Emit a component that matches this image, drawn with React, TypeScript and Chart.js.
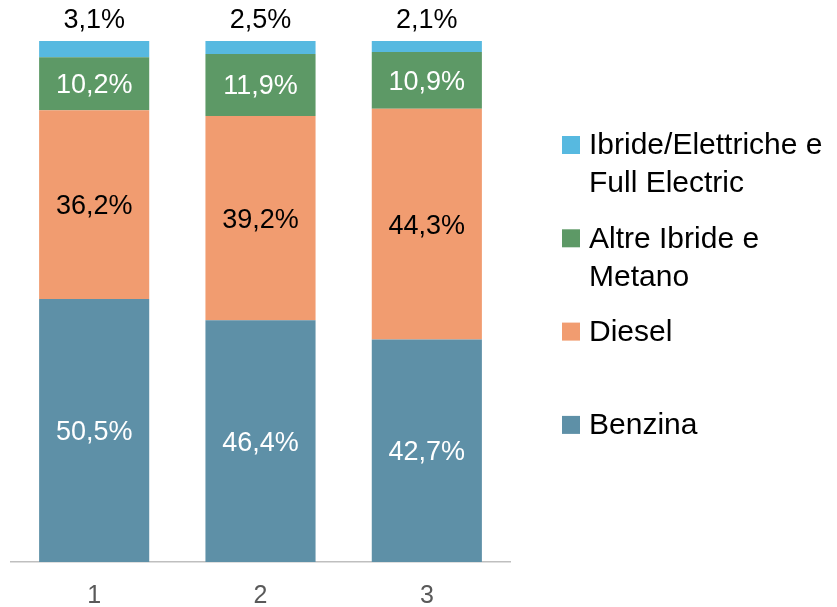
import React, { useEffect, useRef } from "react";
import { Chart, registerables } from "chart.js";

Chart.register(...registerables);

const categories = ["1", "2", "3"];
const seriesNames = ["Benzina", "Diesel", "Altre Ibride e Metano", "Ibride/Elettriche e Full Electric"];
const legendLines = [["Benzina"], ["Diesel"], ["Altre Ibride e", "Metano"], ["Ibride/Elettriche e", "Full Electric"]];
const benzina = [50.5, 46.4, 42.7];
const diesel = [36.2, 39.2, 44.3];
const altreIbride = [10.2, 11.9, 10.9];
const ibrideElettriche = [3.1, 2.5, 2.1];
const colors = ["#5E90A7", "#F19C70", "#5D9966", "#57B9E0"];
const labelColors = ["#FFFFFF", "#000000", "#FFFFFF", "#000000"];

const FONT = "'Liberation Sans', Arial, sans-serif";

const fmt = (v: number) => v.toFixed(1).replace(".", ",") + "%";

const labelsPlugin = {
  id: "segLabels",
  afterDatasetsDraw(chart: any) {
    const ctx = chart.ctx;
    ctx.save();
    ctx.font = `27px ${FONT}`;
    ctx.textAlign = "center";
    ctx.textBaseline = "middle";
    chart.data.datasets.forEach((ds: any, i: number) => {
      const meta = chart.getDatasetMeta(i);
      meta.data.forEach((bar: any, j: number) => {
        const v = ds.data[j];
        ctx.fillStyle = labelColors[i];
        if (i === 3) {
          ctx.fillText(fmt(v), bar.x, bar.y - 20);
        } else {
          ctx.fillText(fmt(v), bar.x, (bar.y + bar.base) / 2 + 2);
        }
      });
    });
    // category labels from the x scale
    const xs = chart.scales.x;
    ctx.font = `25px ${FONT}`;
    ctx.fillStyle = "#595959";
    chart.data.labels.forEach((lab: string, j: number) => {
      ctx.fillText(lab, xs.getPixelForValue(j), xs.bottom + 34);
    });
    ctx.restore();
  },
};

const legendPlugin = {
  id: "sideLegend",
  afterDraw(chart: any) {
    const ctx = chart.ctx;
    ctx.save();
    ctx.font = `30px ${FONT}`;
    ctx.textAlign = "left";
    ctx.textBaseline = "middle";
    const order = [3, 2, 1, 0];
    order.forEach((idx, k) => {
      const cy = 145 + k * 93.3;
      ctx.fillStyle = colors[idx];
      ctx.fillRect(562, cy - 9, 18, 18);
      ctx.fillStyle = "#000000";
      legendLines[idx].forEach((line, li) => {
        ctx.fillText(line, 589, cy + 1 + li * 38);
      });
    });
    ctx.restore();
  },
};

export default function App() {
  const ref = useRef<HTMLCanvasElement | null>(null);
  useEffect(() => {
    if (!ref.current) return;
    const data = [benzina, diesel, altreIbride, ibrideElettriche];
    const chart = new Chart(ref.current, {
      type: "bar",
      data: {
        labels: categories,
        datasets: seriesNames.map((name, i) => ({
          label: name,
          data: data[i],
          backgroundColor: colors[i],
          borderWidth: 0,
          categoryPercentage: 1,
          barPercentage: 0.662,
        })),
      },
      options: {
        responsive: false,
        animation: false,
        layout: { padding: { left: 11, right: 327, top: 41, bottom: 45 } },
        plugins: { legend: { display: false }, tooltip: { enabled: false } },
        scales: {
          x: {
            stacked: true,
            grid: { display: false, drawTicks: false },
            border: { display: true, color: "#BFBFBF", width: 1.5 },
            ticks: { display: false },
          },
          y: {
            stacked: true,
            display: false,
            min: 0,
            max: 100,
          },
        },
      },
      plugins: [labelsPlugin, legendPlugin],
    });
    return () => chart.destroy();
  }, []);
  return (
    <div style={{ position: "fixed", left: 0, top: 0, width: 837, height: 607, background: "#fff" }}>
      <canvas ref={ref} width={837} height={607} style={{ display: "block" }} />
    </div>
  );
}
